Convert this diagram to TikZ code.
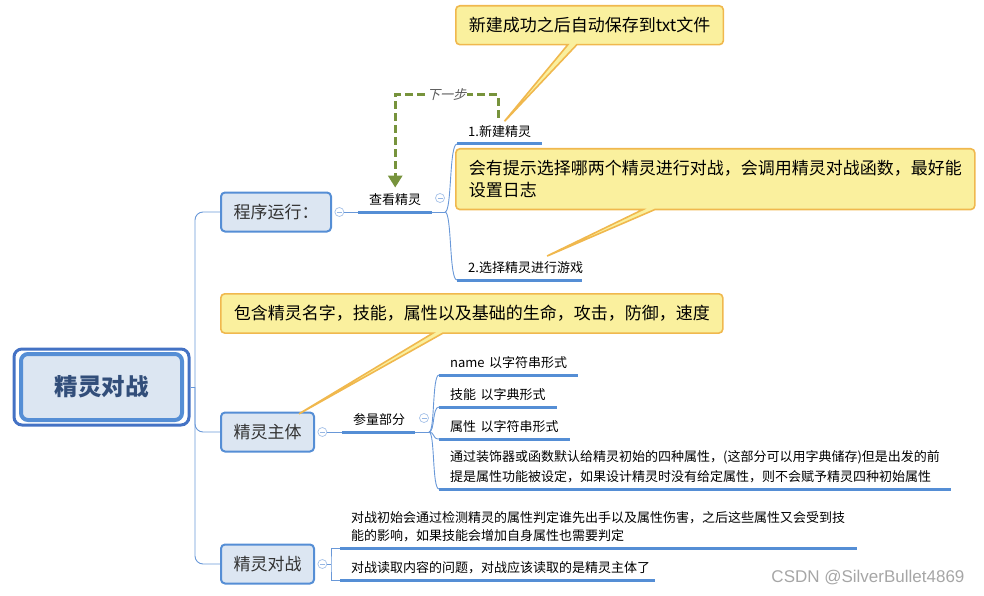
\documentclass[tikz,border=0pt]{standalone}
\usepackage{fontspec}
\setmainfont{Noto Sans CJK SC}
\newfontfamily\slantcjk[FakeSlant=0.25]{Noto Sans CJK SC}
\newfontfamily\markfont{Liberation Sans}
\usetikzlibrary{arrows.meta, positioning, calc, fit, shapes.callouts}
\definecolor{topicblue}{RGB}{85,142,213}
\definecolor{rootblue}{RGB}{68,114,196}
\definecolor{topicfill}{RGB}{220,230,242}
\definecolor{roottext}{RGB}{50,78,122}
\definecolor{linkblue}{RGB}{105,152,216}
\definecolor{notefill}{RGB}{250,240,158}
\definecolor{noteedge}{RGB}{240,184,78}
\definecolor{stepgreen}{RGB}{119,147,60}
\tikzset{
    root/.style={rectangle, rounded corners=7pt, draw=topicblue, fill=topicfill, line width=4pt, minimum width=161pt, minimum height=66pt, font=\fontsize{23.5}{28}\selectfont\bfseries, text=roottext},
    rootframe/.style={rectangle, rounded corners=8pt, draw=rootblue, line width=3pt, inner xsep=5pt, inner ysep=3pt},
    topic/.style={rectangle, rounded corners=4pt, draw=topicblue, fill=topicfill, line width=2pt, minimum height=39pt, inner xsep=12.5pt, font=\fontsize{17}{20}\selectfont, text=black!80, anchor=west},
    leaf/.style={rectangle, inner xsep=11pt, inner ysep=6pt, anchor=south west, align=left, font=\fontsize{13}{19}\selectfont},
    uline/.style={topicblue, line width=3pt},
    branch/.style={linkblue, line width=0.9pt},
    fold/.style={circle, draw=linkblue!60, fill=white, line width=0.7pt, minimum size=9pt, inner sep=0pt, path picture={\draw[linkblue!70, line width=0.7pt] ([xshift=-2.5pt]path picture bounding box.center) -- ([xshift=2.5pt]path picture bounding box.center);}},
    note/.style={rectangle callout, rounded corners=4pt, draw=noteedge, fill=notefill, line width=1.6pt, inner xsep=13pt, inner ysep=11.5pt, align=left, anchor=north west, font=\fontsize{17}{22}\selectfont},
    nextstep/.style={stepgreen, line width=3pt, dash pattern=on 8pt off 4pt, -{Triangle[width=14pt, length=12pt]}},
    steplabel/.style={font=\slantcjk\fontsize{13}{15}\selectfont, text=black!65, fill=white, inner xsep=0.5pt, inner ysep=1pt},
}
\begin{document}
\begin{tikzpicture}[x=1pt, y=-1pt]
    \useasboundingbox (0,0) rectangle (984,596);
    % central topic and main branches
    \node[root] (root) at (101.5,387) {精灵对战};
    \node[rootframe, fit=(root)] (frame) {};
    \node[topic] (prog) at (220,212) {程序运行：};
    \node[topic] (body) at (220,432) {精灵主体};
    \node[topic] (battle) at (220,564) {精灵对战};
    \coordinate (trunk) at (195,387);
    \draw[branch] (frame.east) -- (trunk);
    \draw[branch, rounded corners=8pt] (prog.west) -| (trunk) |- (battle.west);
    \draw[branch, rounded corners=8pt] (body.west) -| (trunk);
    \foreach \n/\t in {fprog/prog, fbody/body, fbattle/battle}
        \node[fold, right=2.5pt of \t] (\n) {};

    % leaves
    \node[leaf, text width=52pt] (view) at (358,212) {查看精灵};
    \node[leaf, text width=63pt] (newsp) at (457,144) {1.新建精灵};
    \node[leaf, text width=103pt] (play) at (457,280) {2.选择精灵进行游戏};
    \node[leaf, text width=51pt] (param) at (342,432) {参量部分};
    \node[leaf, text width=117pt] (name) at (439,375) {name 以字符串形式};
    \node[leaf, text width=96pt] (skill) at (439,407) {技能 以字典形式};
    \node[leaf, text width=109pt] (attr) at (439,439) {属性 以字符串形式};
    \node[leaf, text width=490pt, font=\fontsize{13}{20}\selectfont] (init) at (439,489) {通过装饰器或函数默认给精灵初始的四种属性，(这部分可以用字典储存)但是出发的前\\提是属性功能被设定，如果设计精灵时没有给定属性，则不会赋予精灵四种初始属性};
    \node[leaf, text width=495pt, font=\fontsize{13}{18}\selectfont] (duel) at (340,548) {对战初始会通过检测精灵的属性判定谁先出手以及属性伤害，之后这些属性又会受到技\\能的影响，如果技能会增加自身属性也需要判定};
    \node[leaf, text width=293pt] (read) at (340,580) {对战读取内容的问题，对战应该读取的是精灵主体了};
    \foreach \n in {view, newsp, play, param, name, skill, attr, init, duel, read}
        \draw[uline] (\n.south west) -- (\n.south east);

    \draw[branch] (fprog) -- (view.south west);
    \node[fold] (fview) at (440,198) {};
    \coordinate (vfork) at (445,212);
    \draw[branch] (view.south east) -- (vfork);
    \foreach \n in {newsp, play}
        \draw[branch] (vfork) .. controls +(7,0) and +(-8,0) .. (\n.south west);

    \draw[branch] (fbody) -- (param.south west);
    \node[fold] (fparam) at (424,418) {};
    \coordinate (pfork) at (429,432);
    \draw[branch] (param.south east) -- (pfork);
    \foreach \n in {name, skill, attr, init}
        \draw[branch] (pfork) .. controls +(6,0) and +(-7,0) .. (\n.south west);

    \coordinate (bfork) at (331,564);
    \draw[branch] (fbattle) -- (bfork);
    \draw[branch] (duel.south west) -| (bfork) |- (read.south west);

    % next step link
    \coordinate (stepstart) at (498,118);
    \draw[nextstep] (stepstart) -- ++(0,-23) -| node[steplabel, pos=0.25] (steptext) {下一步} (view.north);

    % callouts
    \coordinate (tipsave) at (503,123);
    \coordinate (tipplay) at (545,257);
    \coordinate (tipbody) at (297,415);
    \node[note, callout absolute pointer={(tipsave)}, callout pointer width=9pt] (save) at (455,5) {新建成功之后自动保存到txt文件};
    \node[note, callout absolute pointer={(tipplay)}, callout pointer width=12pt] (fight) at (455,148) {会有提示选择哪两个精灵进行对战，会调用精灵对战函数，最好能\\设置日志};
    \node[note, callout absolute pointer={(tipbody)}, callout pointer width=10pt] (attrs) at (220,293) {包含精灵名字，技能，属性以及基础的生命，攻击，防御，速度};

    \node[font=\markfont\fontsize{17}{20}\selectfont, text=gray!70, anchor=east] (mark) at (968,578) {CSDN @SilverBullet4869};
\end{tikzpicture}
\end{document}
